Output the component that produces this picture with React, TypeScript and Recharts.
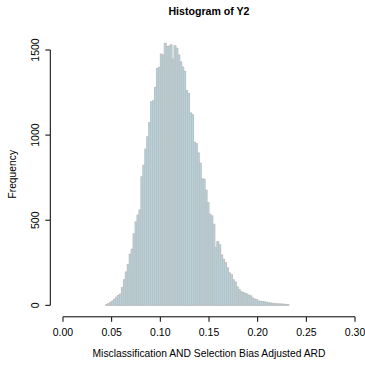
import { ComposedChart, Bar, XAxis, YAxis } from "recharts";

// histogram breaks: 0.002 wide, first bar starts at 0.044
const BIN_WIDTH = 0.002;
const FIRST_BREAK = 0.044;
const COUNTS = [
  5, 10, 18, 25, 35, 48, 58, 66, 104, 150,
  196, 240, 300, 330, 420, 490, 530, 560, 755, 823,
  918, 990, 1074, 1196, 1202, 1280, 1392, 1398, 1476, 1470,
  1539, 1520, 1522, 1530, 1447, 1525, 1510, 1470, 1430, 1400,
  1375, 1262, 1245, 1130, 1120, 958, 950, 895, 835, 743,
  740, 676, 603, 535, 525, 476, 339, 374, 355, 296,
  270, 250, 220, 190, 180, 150, 137, 108, 92, 80,
  75, 70, 66, 59, 55, 42, 36, 33, 25, 23,
  22, 20, 18, 15, 14, 12, 10, 9, 8, 8,
  7, 6, 5, 4,
];

const X_TICKS = ["0.000", "0.050", "0.100", "0.150", "0.200", "0.250", "0.300"];
const Y_TICKS = [0, 500, 1000, 1500];
// R pads the axis ranges by 4%
const X_DOMAIN: [number, number] = [-0.012, 0.312];
const Y_DOMAIN: [number, number] = [-61.6, 1601.6];

const PLOT_LEFT = 51.3;
const PLOT_TOP = 32.7;
const PLOT_W = 315.4;
const PLOT_H = 283.1;
const CHART_W = 372;
const CHART_H = 366;
const XAXIS_H = 40;

const NBINS = Math.round((X_DOMAIN[1] - X_DOMAIN[0]) / BIN_WIDTH);
const BAND = PLOT_W / NBINS;
const STEP_X = (0.05 * PLOT_W) / (X_DOMAIN[1] - X_DOMAIN[0]);
const STEP_Y = (500 * PLOT_H) / (Y_DOMAIN[1] - Y_DOMAIN[0]);

const firstMilli = Math.round(X_DOMAIN[0] * 1000);
const rows = Array.from({ length: NBINS }, (_, i) => {
  const milli = firstMilli + i * 2;
  const k = Math.round((milli / 1000 - FIRST_BREAK) / BIN_WIDTH);
  return { bin: (milli / 1000).toFixed(3), count: k >= 0 && k < COUNTS.length ? COUNTS[k] : null };
});

const FONT = "'Liberation Sans', Arial, Helvetica, sans-serif";
const TICK_FS = 10.5;
const LAB_FS = 10.3;

const HistBar = (props: any) => {
  const { x, y, width, height } = props;
  if (!height || height <= 0) return null;
  const cx = x + width / 2;
  return (
    <rect x={cx - BAND / 2} y={y} width={BAND} height={height} fill="#ADD8E6" stroke="#BEBEBE" strokeWidth={1} />
  );
};

// category ticks sit at band centres; R's breaks are the band edges
const XTick = (props: any) => {
  const { x, y, payload, index } = props;
  const ex = x - BAND / 2;
  const ly = y + 1;
  return (
    <g>
      {index < X_TICKS.length - 1 && <line x1={ex} x2={ex + STEP_X} y1={ly} y2={ly} stroke="#000" />}
      <line x1={ex} x2={ex} y1={ly} y2={ly + 5} stroke="#000" />
      <text x={ex} y={y + 20} textAnchor="middle" fontSize={TICK_FS} fontFamily={FONT} fill="#000">
        {Number(payload.value).toFixed(2)}
      </text>
    </g>
  );
};

const YTick = (props: any) => {
  const { x, y, payload, index } = props;
  const lx = x - 1;
  return (
    <g>
      {index < Y_TICKS.length - 1 && <line x1={lx} x2={lx} y1={y} y2={y - STEP_Y} stroke="#000" />}
      <line x1={lx} x2={lx - 5} y1={y} y2={y} stroke="#000" />
      <text
        x={39}
        y={y}
        transform={`rotate(-90, 39, ${y})`}
        textAnchor="middle"
        fontSize={TICK_FS}
        fontFamily={FONT}
        fill="#000"
      >
        {payload.value}
      </text>
    </g>
  );
};

export default function App() {
  const cx = PLOT_LEFT + PLOT_W / 2;
  const cy = PLOT_TOP + PLOT_H / 2;
  return (
    <div style={{ position: "absolute", left: 0, top: 0, width: 365, height: 366, overflow: "hidden", background: "#fff" }}>
      <ComposedChart
        width={CHART_W}
        height={CHART_H}
        data={rows}
        barCategoryGap={0}
        barGap={0}
        margin={{
          top: PLOT_TOP,
          right: CHART_W - PLOT_LEFT - PLOT_W,
          bottom: CHART_H - PLOT_TOP - PLOT_H - XAXIS_H,
          left: 0,
        }}
      >
        <XAxis
          dataKey="bin"
          type="category"
          ticks={X_TICKS}
          interval={0}
          height={XAXIS_H}
          axisLine={false}
          tickLine={false}
          tickSize={0}
          tickMargin={0}
          tick={<XTick />}
        />
        <YAxis
          type="number"
          domain={Y_DOMAIN}
          allowDataOverflow
          ticks={Y_TICKS}
          interval={0}
          width={PLOT_LEFT}
          axisLine={false}
          tickLine={false}
          tickSize={0}
          tickMargin={0}
          tick={<YTick />}
        />
        <Bar dataKey="count" shape={<HistBar />} isAnimationActive={false} />
      </ComposedChart>
      <svg width={365} height={366} style={{ position: "absolute", left: 0, top: 0, pointerEvents: "none" }}>
        <text x={cx} y={15} textAnchor="middle" fontSize={10.6} fontWeight="bold" fontFamily={FONT} fill="#000">
          Histogram of Y2
        </text>
        <text x={cx} y={357} textAnchor="middle" fontSize={LAB_FS} fontFamily={FONT} fill="#000">
          Misclassification AND Selection Bias Adjusted ARD
        </text>
        <text x={16} y={cy} transform={`rotate(-90, 16, ${cy})`} textAnchor="middle" fontSize={LAB_FS} fontFamily={FONT} fill="#000">
          Frequency
        </text>
      </svg>
    </div>
  );
}
